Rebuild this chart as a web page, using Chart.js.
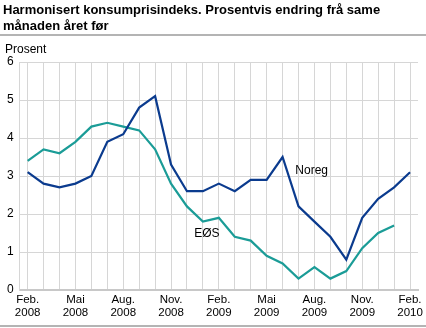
<!DOCTYPE html>
<html>
<head>
<meta charset="utf-8">
<script src="https://cdn.jsdelivr.net/npm/chart.js@4.4.1/dist/chart.umd.min.js"></script>
<style>
  body { margin: 0; background: #fff; font-family: "Liberation Sans", Arial, sans-serif; }
  #wrap { position: relative; width: 426px; height: 328px; overflow: hidden; }
  #title { position: absolute; left: 3px; top: 2px; font-size: 13px; font-weight: bold; line-height: 16px; color: #000; }
  #rule1 { position: absolute; left: 0; top: 34px; width: 426px; height: 2px; background: #b4b4b4; }
  #rule2 { position: absolute; left: 0; top: 325px; width: 426px; height: 2px; background: #b4b4b4; }
  #unit { position: absolute; left: 5px; top: 42px; font-size: 12px; color: #000; }
  #chart { position: absolute; left: 0; top: 0; }
</style>
</head>
<body>
<div id="wrap">
  <canvas id="chart" width="426" height="328"></canvas>
  <div id="title">Harmonisert konsumprisindeks. Prosentvis endring frå same<br>månaden året før</div>
  <div id="rule1"></div>
  <div id="unit">Prosent</div>
  <div id="rule2"></div>
</div>
<script>
// months Feb. 2008 - Feb. 2010
var months = ['Feb. 2008', 'Mar. 2008', 'Apr. 2008', 'Mai 2008', 'Jun. 2008', 'Jul. 2008',
  'Aug. 2008', 'Sep. 2008', 'Okt. 2008', 'Nov. 2008', 'Des. 2008', 'Jan. 2009',
  'Feb. 2009', 'Mar. 2009', 'Apr. 2009', 'Mai 2009', 'Jun. 2009', 'Jul. 2009',
  'Aug. 2009', 'Sep. 2009', 'Okt. 2009', 'Nov. 2009', 'Des. 2009', 'Jan. 2010', 'Feb. 2010'];

var noreg = [3.1, 2.8, 2.7, 2.8, 3.0, 3.9, 4.1, 4.8, 5.1, 3.3, 2.6, 2.6,
  2.8, 2.6, 2.9, 2.9, 3.5, 2.2, 1.8, 1.4, 0.8, 1.9, 2.4, 2.7, 3.1];

var eos = [3.4, 3.7, 3.6, 3.9, 4.3, 4.4, 4.3, 4.2, 3.7, 2.8, 2.2, 1.8,
  1.9, 1.4, 1.3, 0.9, 0.7, 0.3, 0.6, 0.3, 0.5, 1.1, 1.5, 1.7, null];

var yTicks = [0, 1, 2, 3, 4, 5, 6];

// text labels placed next to the lines (category index, value)
var seriesLabels = [
  { text: 'Noreg', at: 16.8, value: 3.15 },
  { text: 'EØS', at: 10.45, value: 1.48 }
];

var gridColor = '#d6d6d6';
var fontFamily = '"Liberation Sans", Arial, sans-serif';

var labelPlugin = {
  id: 'seriesLabels',
  afterDatasetsDraw: function(chart) {
    var ctx = chart.ctx;
    var xs = chart.scales.x, ys = chart.scales.y;
    ctx.save();
    ctx.font = '12px ' + fontFamily;
    ctx.fillStyle = '#000';
    ctx.textAlign = 'left';
    ctx.textBaseline = 'middle';
    seriesLabels.forEach(function(l) {
      ctx.fillText(l.text, xs.getPixelForValue(l.at), ys.getPixelForValue(l.value));
    });
    ctx.restore();
  }
};

new Chart(document.getElementById('chart'), {
  type: 'line',
  data: {
    labels: months,
    datasets: [
      { label: 'Noreg', data: noreg, borderColor: '#0b3b8e', borderWidth: 2.2, pointRadius: 0, tension: 0 },
      { label: 'EØS', data: eos, borderColor: '#1b9c97', borderWidth: 2.2, pointRadius: 0, tension: 0 }
    ]
  },
  options: {
    responsive: false,
    animation: false,
    layout: { padding: { top: 62, left: 1, right: 8, bottom: 6 } },
    plugins: { legend: { display: false }, tooltip: { enabled: false } },
    scales: {
      x: {
        offset: true,
        grid: { color: gridColor, offset: false, drawTicks: false },
        border: { color: '#c8c8c8', width: 2 },
        ticks: {
          autoSkip: false, maxRotation: 0, padding: 3, color: '#000',
          font: { size: 11.5, family: fontFamily, lineHeight: 1.13 },
          callback: function(v, i) { return i % 3 === 0 ? months[i].split(' ') : ''; }
        }
      },
      y: {
        min: 0, max: 6,
        afterBuildTicks: function(s) { s.ticks = yTicks.map(function(v) { return { value: v }; }); },
        grid: { color: gridColor, drawTicks: false },
        border: { color: gridColor },
        ticks: { padding: 6, color: '#000', font: { size: 12, family: fontFamily } }
      }
    }
  },
  plugins: [labelPlugin]
});
</script>
</body>
</html>
